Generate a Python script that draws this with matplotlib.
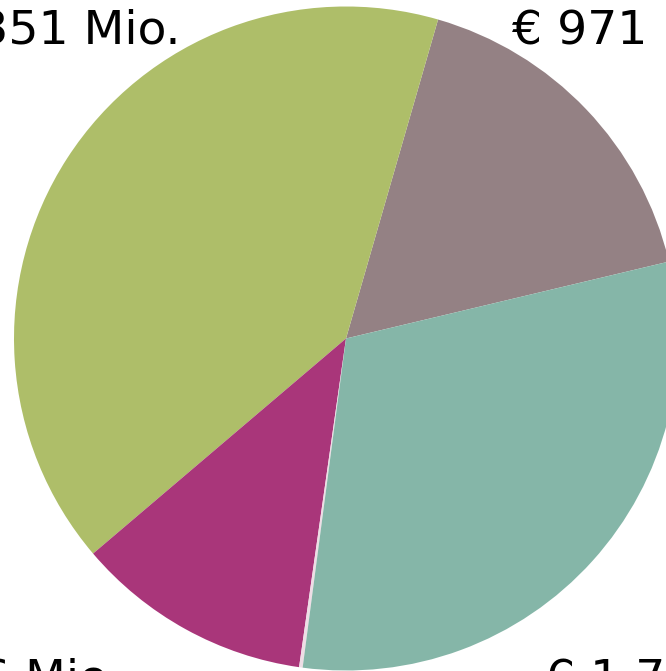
import matplotlib
matplotlib.use("Agg")
import matplotlib.pyplot as plt

categories = ["A", "B", "C", "D", "E"]
values = [971, 2351, 666, 10, 1780]
labels = ["€ 971 Mio.", "€ 2.351 Mio.", "€ 666 Mio.", "€ 10 Mio.", "€ 1.780 Mio."]
colors = ["#948184", "#AEBE69", "#A9367A", "#EEDDE5", "#85B6A8"]

W, H = 666, 671
fig = plt.figure(figsize=(W / 100, H / 100), dpi=100)
ax = fig.add_axes([0, 0, 1, 1])

cx, cy, r = 346, 338.5, 332
ax.pie(values, colors=colors, startangle=13.4, counterclock=True, radius=1,
       wedgeprops=dict(linewidth=0))
ax.set_xlim((0 - cx) / r, (W - cx) / r)
ax.set_ylim(-(H - cy) / r, cy / r)
ax.set_aspect("auto")
ax.axis("off")

fs = 34
ax.text(0.5, 0.89, labels[0], ha="left", va="baseline", fontsize=fs, color="black")
ax.text(-0.5, 0.89, labels[1], ha="right", va="baseline", fontsize=fs, color="black")
ax.text(-0.675, -1.065, labels[2], ha="right", va="baseline", fontsize=fs, color="black")
ax.text(0.6, -1.065, labels[4], ha="left", va="baseline", fontsize=fs, color="black")

fig.savefig("out.png", dpi=100)
